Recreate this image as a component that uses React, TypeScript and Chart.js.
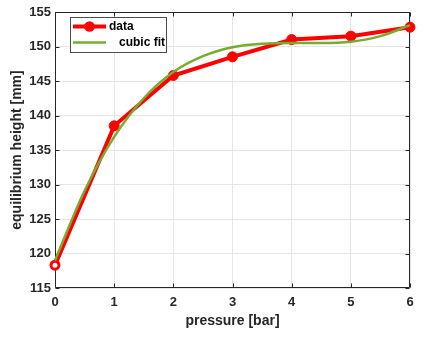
import { useEffect, useRef } from "react";
import { Chart, registerables } from "chart.js";

Chart.register(...registerables);

// measured data
const pressure = [0, 1, 2, 3, 4, 5, 6];
const heightMm = [118.3, 138.5, 145.8, 148.5, 151.0, 151.5, 152.8];

// cubic fit curve
const fitPressure = [0, 0.5, 1, 1.5, 2, 2.5, 3, 3.5, 4, 4.5, 5, 5.5, 6];
const fitHeight = [119.0, 129.1, 136.9, 142.5, 146.3, 148.6, 149.9, 150.4, 150.5, 150.5, 150.7, 151.5, 153.1];

const xTickValues = [0, 1, 2, 3, 4, 5, 6];
const yTickValues = [115, 120, 125, 130, 135, 140, 145, 150, 155];

const legendLabels = ["data", "cubic fit"];

const FONT = "'Liberation Sans', Arial, Helvetica, sans-serif";
const AXIS_COLOR = "#262626";
const RED = "#ff0000";
const GREEN = "#77ac30";

const framePlugin = {
  id: "frame",
  beforeDatasetsDraw(chart: any) {
    const { ctx, chartArea: a, scales } = chart;
    const L = Math.round(a.left) + 0.5;
    const R = Math.round(a.right) - 0.5;
    const T = Math.round(a.top) + 0.5;
    const B = Math.round(a.bottom) - 0.5;
    ctx.save();
    ctx.strokeStyle = AXIS_COLOR;
    ctx.lineWidth = 1;
    ctx.beginPath();
    ctx.rect(L, T, R - L, B - T);
    const tl = 4;
    xTickValues.forEach((v) => {
      const px = Math.round(scales.x.getPixelForValue(v)) + 0.5;
      ctx.moveTo(px, B);
      ctx.lineTo(px, B - tl);
      ctx.moveTo(px, T);
      ctx.lineTo(px, T + tl);
    });
    yTickValues.forEach((v) => {
      const py = Math.round(scales.y.getPixelForValue(v)) + 0.5;
      ctx.moveTo(L, py);
      ctx.lineTo(L + tl, py);
      ctx.moveTo(R, py);
      ctx.lineTo(R - tl, py);
    });
    ctx.stroke();
    ctx.restore();
  },
};

const legendPlugin = {
  id: "customLegend",
  afterDatasetsDraw(chart: any) {
    const { ctx } = chart;
    ctx.save();
    const x0 = 70.5, y0 = 17.5, w = 96, h = 35;
    ctx.fillStyle = "#ffffff";
    ctx.fillRect(x0, y0, w, h);
    ctx.strokeStyle = "#4d4d4d";
    ctx.lineWidth = 1;
    ctx.strokeRect(x0, y0, w, h);

    // data entry
    ctx.strokeStyle = RED;
    ctx.lineWidth = 4;
    ctx.beginPath();
    ctx.moveTo(73, 26.5);
    ctx.lineTo(106, 26.5);
    ctx.stroke();
    ctx.fillStyle = RED;
    ctx.beginPath();
    ctx.arc(89.5, 26.5, 5.3, 0, Math.PI * 2);
    ctx.fill();

    // fit entry
    ctx.strokeStyle = GREEN;
    ctx.lineWidth = 2.5;
    ctx.beginPath();
    ctx.moveTo(73, 42.5);
    ctx.lineTo(106, 42.5);
    ctx.stroke();

    ctx.fillStyle = "#000000";
    ctx.font = `bold 12px ${FONT}`;
    ctx.textBaseline = "middle";
    ctx.textAlign = "left";
    ctx.fillText(legendLabels[0], 109, 27);
    ctx.fillText(legendLabels[1], 119, 43);
    ctx.restore();
  },
};

export default function App() {
  const ref = useRef<HTMLCanvasElement | null>(null);

  useEffect(() => {
    if (!ref.current) return;
    const chart = new Chart(ref.current, {
      type: "line",
      data: {
        datasets: [
          {
            label: legendLabels[1],
            data: fitPressure.map((x, i) => ({ x, y: fitHeight[i] })),
            borderColor: GREEN,
            borderWidth: 2.5,
            pointRadius: 0,
            cubicInterpolationMode: "monotone",
            fill: false,
            clip: false as any,
            order: 0,
          },
          {
            label: legendLabels[0],
            data: pressure.map((x, i) => ({ x, y: heightMm[i] })),
            borderColor: RED,
            borderWidth: 4,
            backgroundColor: RED,
            pointBackgroundColor: pressure.map((_, i) => (i === 0 ? "#ffffff" : RED)),
            pointBorderColor: RED,
            pointBorderWidth: pressure.map((_, i) => (i === 0 ? 3 : 1)),
            pointRadius: pressure.map((_, i) => (i === 0 ? 4 : 5)),
            tension: 0,
            fill: false,
            clip: false as any,
            order: 1,
          },
        ],
      },
      options: {
        responsive: false,
        animation: false,
        layout: { padding: { top: 12, right: 22, left: 0, bottom: 0 } },
        plugins: {
          legend: { display: false },
          tooltip: { enabled: false },
        },
        scales: {
          x: {
            type: "linear",
            min: 0,
            max: 6,
            afterFit(scale: any) {
              scale.height = 50;
            },
            afterBuildTicks(scale: any) {
              scale.ticks = xTickValues.map((v) => ({ value: v }));
            },
            ticks: {
              padding: 7,
              color: AXIS_COLOR,
              font: { family: FONT, size: 13, weight: "bold" },
              maxRotation: 0,
            },
            grid: { color: "#e6e6e6", drawTicks: false },
            border: { display: false },
            title: {
              display: true,
              text: "pressure [bar]",
              color: AXIS_COLOR,
              font: { family: FONT, size: 14, weight: "bold" },
              padding: { top: 0, bottom: 8 },
            },
          },
          y: {
            type: "linear",
            min: 115,
            max: 155,
            afterFit(scale: any) {
              scale.width = 55;
            },
            afterBuildTicks(scale: any) {
              scale.ticks = yTickValues.map((v) => ({ value: v }));
            },
            ticks: {
              padding: 4,
              color: AXIS_COLOR,
              font: { family: FONT, size: 13, weight: "bold" },
            },
            grid: { color: "#e6e6e6", drawTicks: false },
            border: { display: false },
            title: {
              display: true,
              text: "equilibrium height [mm]",
              color: AXIS_COLOR,
              font: { family: FONT, size: 14, weight: "bold" },
              padding: { top: 9, bottom: 0 },
            },
          },
        },
      },
      plugins: [framePlugin, legendPlugin],
    });
    return () => chart.destroy();
  }, []);

  return (
    <div style={{ position: "fixed", left: 0, top: 0, width: 432, height: 338, background: "#ffffff" }}>
      <canvas ref={ref} width={432} height={338} style={{ display: "block" }} />
    </div>
  );
}
